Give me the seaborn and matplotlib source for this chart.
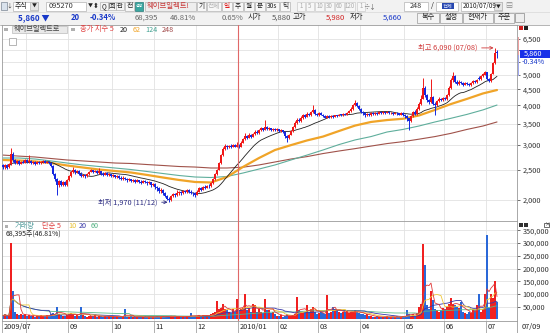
import numpy as np
import pandas as pd
import matplotlib
matplotlib.use("Agg")
import matplotlib.pyplot as plt
import matplotlib.ticker as mticker
from matplotlib.patches import Rectangle
import seaborn as sns

# ---------------- data ----------------
opens = [2590,2540,2580,2540,2600,2800,2680,2620,2660,2610,
         2650,2630,2680,2640,2660,2620,2640,2610,2650,2620,
         2640,2660,2630,2650,2620,2560,2420,2330,2230,2300,
         2240,2280,2230,2320,2380,2460,2500,2450,2480,2430,
         2390,2410,2380,2420,2460,2490,2460,2480,2440,2470,
         2430,2410,2440,2400,2420,2390,2400,2370,2390,2360,
         2340,2360,2330,2310,2330,2300,2320,2290,2310,2290,
         2270,2300,2280,2260,2280,2230,2250,2200,2180,2140,
         2160,2100,2060,2020,2000,2060,2090,2070,2100,2120,
         2100,2140,2120,2150,2130,2110,2100,2080,2130,2180,
         2160,2200,2190,2220,2210,2260,2330,2420,2500,2620,
         2780,2900,2980,2940,2970,2950,2990,2960,3000,2960,
         3040,3120,3200,3150,3220,3180,3240,3300,3260,3330,
         3380,3340,3420,3360,3390,3340,3370,3330,3360,3320,
         3340,3300,3200,3150,3230,3310,3420,3520,3600,3560,
         3650,3720,3680,3760,3720,3800,3880,3760,3720,3780,
         3740,3700,3660,3700,3670,3710,3680,3720,3700,3740,
         3720,3760,3740,3790,3830,3900,4000,4080,3980,3900,
         3820,3780,3720,3760,3730,3780,3750,3790,3760,3800,
         3770,3800,3780,3810,3770,3790,3760,3790,3770,3740,
         3780,3740,3700,3640,3560,3700,3820,3760,3900,4050,
         4200,4550,4300,4150,4100,4250,4050,4000,4120,4200,
         4150,4220,4180,4300,4550,4800,4950,4750,4680,4750,
         4700,4650,4720,4680,4640,4700,4780,4730,4900,4840,
         4950,5000,5100,4850,4780,5050,5450,5880]
closes = [2540,2580,2530,2600,2800,2680,2620,2660,2610,2650,
          2630,2680,2640,2660,2620,2640,2610,2650,2620,2640,
          2660,2630,2650,2620,2560,2420,2330,2230,2300,2240,
          2280,2230,2320,2380,2460,2500,2450,2480,2430,2390,
          2410,2380,2420,2460,2490,2460,2480,2440,2470,2430,
          2410,2440,2400,2420,2390,2400,2370,2390,2360,2340,
          2360,2330,2310,2330,2300,2320,2290,2310,2290,2270,
          2300,2280,2260,2280,2230,2250,2200,2180,2140,2160,
          2100,2060,2020,2000,2060,2090,2070,2100,2120,2100,
          2140,2120,2150,2130,2110,2100,2080,2130,2180,2160,
          2200,2190,2220,2210,2260,2330,2420,2500,2620,2780,
          2900,2980,2940,2970,2950,2990,2960,3000,2960,3040,
          3120,3200,3150,3220,3180,3240,3300,3260,3330,3380,
          3340,3420,3360,3390,3340,3370,3330,3360,3320,3340,
          3300,3200,3150,3230,3310,3420,3520,3600,3560,3650,
          3720,3680,3760,3720,3800,3880,3760,3720,3780,3740,
          3700,3660,3700,3670,3710,3680,3720,3700,3740,3720,
          3760,3740,3790,3830,3900,4000,4080,3980,3900,3820,
          3780,3720,3760,3730,3780,3750,3790,3760,3800,3770,
          3800,3780,3810,3770,3790,3760,3790,3770,3740,3780,
          3740,3700,3640,3560,3700,3820,3760,3900,4050,4200,
          4550,4300,4150,4100,4250,4050,4000,4120,4200,4150,
          4220,4180,4300,4550,4800,4950,4750,4680,4750,4700,
          4650,4720,4680,4640,4700,4780,4730,4820,4840,4950,
          5020,5100,4850,4780,5050,5450,5880,5860]
highs = [2610,2600,2600,2620,2925,2850,2700,2680,2680,2670,
         2680,2700,2700,2790,2680,2660,2660,2670,2670,2660,
         2680,2680,2670,2670,2640,2580,2440,2350,2320,2320,
         2300,2300,2340,2400,2480,2540,2520,2500,2500,2450,
         2430,2420,2440,2480,2510,2500,2500,2490,2530,2480,
         2450,2460,2450,2440,2430,2420,2410,2410,2400,2380,
         2380,2370,2350,2350,2340,2340,2330,2330,2320,2310,
         2320,2310,2300,2300,2290,2270,2260,2220,2200,2180,
         2170,2120,2080,2040,2080,2110,2110,2150,2140,2140,
         2160,2160,2170,2170,2150,2130,2120,2150,2200,2200,
         2220,2230,2240,2250,2280,2350,2440,2520,2650,2800,
         2950,3020,3000,3000,3010,3020,3010,3050,3020,3080,
         3160,3260,3230,3260,3250,3280,3340,3340,3370,3420,
         3400,3600,3450,3420,3400,3400,3380,3390,3370,3370,
         3350,3310,3220,3250,3340,3450,3560,3650,3640,3700,
         3760,3760,3800,3790,3850,4010,3900,3780,3800,3800,
         3760,3720,3720,3720,3740,3730,3740,3740,3760,3760,
         3780,3790,3820,3860,3940,4050,4160,4100,4000,3920,
         3850,3800,3790,3780,3800,3800,3820,3810,3830,3820,
         3830,3820,3840,3830,3810,3810,3810,3810,3790,3800,
         3800,3760,3720,3660,3720,3850,3860,3950,4100,4300,
         4900,4600,4350,4200,4850,4280,4100,4150,4250,4230,
         4260,4250,4350,4600,4900,5100,4980,4800,4800,4780,
         4740,4760,4750,4700,4740,4820,4800,4850,4950,4990,
         5080,5150,5120,4900,5080,5500,6090,5980]
lows = [2520,2520,2510,2530,2590,2640,2600,2600,2590,2600,
        2620,2620,2630,2620,2600,2600,2590,2600,2600,2610,
        2620,2620,2620,2600,2540,2400,2300,2077,2200,2220,
        2220,2210,2220,2300,2370,2440,2430,2440,2410,2370,
        2370,2360,2370,2400,2450,2440,2450,2420,2430,2400,
        2380,2400,2380,2390,2370,2370,2350,2360,2340,2320,
        2320,2310,2290,2300,2280,2290,2270,2280,2270,2250,
        2260,2260,2240,2250,2200,2210,2170,2140,2110,2110,
        2080,2040,2000,1970,1990,2040,2050,2060,2080,2080,
        2090,2100,2110,2110,2090,2060,2040,2070,2120,2140,
        2150,2170,2180,2190,2200,2250,2320,2400,2490,2600,
        2760,2880,2900,2920,2930,2940,2940,2950,2930,2950,
        3030,3100,3120,3140,3160,3170,3230,3240,3250,3310,
        3320,3330,3340,3340,3320,3320,3310,3310,3300,3300,
        3270,3160,3050,3130,3220,3300,3400,3500,3530,3540,
        3630,3660,3670,3690,3700,3780,3730,3690,3700,3720,
        3670,3640,3640,3640,3660,3660,3670,3680,3690,3700,
        3710,3720,3730,3770,3820,3880,3980,3950,3870,3780,
        3740,3680,3690,3700,3710,3730,3740,3740,3750,3750,
        3760,3760,3770,3750,3750,3740,3750,3740,3720,3720,
        3700,3650,3560,3340,3540,3680,3720,3740,3880,4020,
        4180,4250,4100,4050,4080,4000,3720,3980,4100,4120,
        4130,4150,4170,4280,4520,4750,4700,4640,4650,4660,
        4620,4630,4650,4600,4620,4680,4700,4710,4800,4830,
        4930,4980,4800,4750,4760,5030,5430,5660]
volumes_k = [15,20,12,18,302,110,30,22,18,20,
             16,20,14,18,12,15,10,14,12,16,
             14,12,18,15,20,25,22,50,20,18,
             15,12,18,22,25,20,15,18,14,49,
             16,12,10,14,15,12,16,10,14,12,
             10,12,9,14,10,12,9,11,10,12,
             9,41,10,8,12,9,10,11,8,10,
             9,12,8,10,9,11,10,12,9,10,
             12,10,14,12,15,10,12,9,11,10,
             12,10,14,9,25,11,12,15,17,12,
             18,14,17,15,20,25,30,74,40,45,
             61,40,35,30,25,40,30,81,35,40,
             45,101,37,45,30,60,55,30,40,30,
             25,81,35,37,25,30,20,15,12,18,
             10,14,20,12,15,18,22,90,35,30,
             25,30,58,30,40,50,30,20,25,28,
             25,20,95,25,30,50,40,38,30,25,
             30,28,32,25,30,28,35,30,25,20,
             22,18,20,15,12,10,8,12,10,9,
             8,10,12,9,11,8,10,12,9,10,
             12,10,37,20,15,20,15,25,50,60,
             295,215,55,40,110,78,40,37,30,35,
             45,40,50,60,85,60,55,50,45,70,
             30,25,20,30,25,40,35,55,100,30,
             40,100,330,45,100,85,150,68.395]
# long moving averages every 8th session (+ last session)
ma_every = 8
ma62 = [2683,2673,2654,2624,2577,2539,2502,2475,2448,2405,2360,2318,2284,2276,2369,2550,
        2722,2886,2991,3095,3184,3316,3450,3543,3593,3627,3715,3870,4040,4195,4365,4476]
ma124 = [2722,2722,2702,2664,2624,2587,2558,2530,2502,2466,2430,2395,2369,2360,2378,2439,
         2511,2587,2683,2781,2886,3003,3106,3184,3292,3355,3440,3543,3640,3745,3870,4010]
ma248 = [2781,2760,2742,2712,2683,2664,2644,2624,2615,2595,2577,2558,2548,2530,2530,2545,
         2587,2644,2702,2750,2812,2865,2915,2970,3025,3068,3124,3184,3260,3355,3440,3543]
month_idx = [0, 12, 33, 55, 76, 97, 118, 138, 158, 179, 201, 221, 242]
month_labels = ["2009/07", "", "09", "10", "11", "12", "2010/01", "02", "03", "04", "05", "06", "07"]
price_ticks = [2000, 2500, 3000, 3500, 4000, 4500, 5000, 5500, 6000, 6500]
hidden_price_labels = [5500, 6000]   # covered by the current-price marker in the reference
vol_ticks = [50000, 100000, 150000, 200000, 250000, 300000, 350000]
hi_idx, lo_idx = 246, 83

# ---------------- style ----------------
sns.set_theme(style="white")
plt.rcParams['font.family'] = ['Noto Sans CJK KR', 'DejaVu Sans']
RED, BLUE = '#f01818', '#1428e0'
VRED, VBLUE = '#f02020', '#2a68d8'
GRID = '#e2e2e2'
FS = 5.3

W, H = 550, 333
fig = plt.figure(figsize=(W / 100, H / 100), dpi=100)
fig.patch.set_facecolor('white')

def rect(px0, py0, px1, py1):
    return [px0 / W, 1 - py1 / H, (px1 - px0) / W, (py1 - py0) / H]

bg = fig.add_axes([0, 0, 1, 1], zorder=0)
bg.set_xlim(0, W); bg.set_ylim(H, 0); bg.axis('off')

axp = fig.add_axes(rect(2, 25, 517, 221), zorder=2)
axv = fig.add_axes(rect(2, 221, 517, 321), zorder=2, sharex=axp)
fg = fig.add_axes([0, 0, 1, 1], zorder=5)
fg.set_xlim(0, W); fg.set_ylim(H, 0); fg.axis('off'); fg.patch.set_alpha(0)

n = len(closes)
idx = np.arange(n)
o = np.array(opens, float); c = np.array(closes, float)
h = np.array(highs, float); l = np.array(lows, float)
vol = np.array(volumes_k, float) * 1000
up = c >= o
ccol = np.where(up, RED, BLUE)
vcol = np.where(up, VRED, VBLUE)

# ---------------- price panel ----------------
axp.set_yscale('log')
axp.set_xlim(-0.5, 257)
axp.set_ylim(1717, 7201)
for t in price_ticks:
    axp.axhline(t, color=GRID, lw=0.6, zorder=0)
for m in month_idx[1:]:
    axp.axvline(m - 0.5, color=GRID, lw=0.6, zorder=0)
    axv.axvline(m - 0.5, color=GRID, lw=0.6, zorder=0)

ma_x = list(idx[::ma_every]) + [n - 1]
ma20 = pd.Series(c).rolling(20, min_periods=1).mean()
sns.lineplot(x=ma_x, y=ma248, ax=axp, color='#a0524a', lw=0.8, legend=False, zorder=2)
sns.lineplot(x=ma_x, y=ma124, ax=axp, color='#5fae9c', lw=0.8, legend=False, zorder=2)
sns.lineplot(x=ma_x, y=ma62, ax=axp, color='#f0a428', lw=1.6, legend=False, zorder=2)
sns.lineplot(x=idx, y=ma20, ax=axp, color='#202020', lw=0.6, legend=False, zorder=2)

axp.vlines(idx, l, h, colors=ccol, lw=0.7, zorder=3)
body = np.maximum(np.abs(c - o), c * 0.006)
axp.bar(idx, body, bottom=np.minimum(o, c), width=0.85, color=ccol, lw=0, zorder=3)

axp.yaxis.set_major_locator(mticker.FixedLocator(price_ticks))
axp.yaxis.set_minor_locator(mticker.NullLocator())
axp.yaxis.set_major_formatter(mticker.FuncFormatter(
    lambda v, p: "" if int(round(v)) in hidden_price_labels else f"{int(round(v)):,}"))
axp.yaxis.tick_right()
axp.tick_params(axis='y', labelsize=FS, colors='#333333', length=2.5, width=0.5, pad=1.5)
axp.tick_params(axis='x', bottom=False, labelbottom=False)
axp.set_xlabel(''); axp.set_ylabel('')

axp.annotate("최고 6,090 (07/08)", xy=(hi_idx, h[hi_idx]), xytext=(-18, 0),
             textcoords='offset pixels', ha='right', va='center', fontsize=FS,
             color='#d03838', arrowprops=dict(arrowstyle='->', color='#d03838', lw=0.6,
                                              shrinkA=1, shrinkB=1))
axp.annotate("최저 1,970 (11/12)", xy=(lo_idx, l[lo_idx]), xytext=(-12, 0),
             textcoords='offset pixels', ha='right', va='center', fontsize=FS,
             color='#2a2a80', arrowprops=dict(arrowstyle='->', color='#2a2a80', lw=0.6,
                                              shrinkA=1, shrinkB=1))
axp.axvline(118 - 0.5, color='#e06868', lw=0.8, zorder=4)

# ---------------- volume panel ----------------
axv.set_ylim(-6300, 387000)
for t in vol_ticks:
    axv.axhline(t, color=GRID, lw=0.6, zorder=0)
axv.bar(idx, vol, width=0.8, color=vcol, lw=0, zorder=2)
vs = pd.Series(vol)
for win, colr in [(60, '#58b888'), (20, '#3838a8'), (10, '#f0c838'), (5, '#e03838')]:
    sns.lineplot(x=idx, y=vs.rolling(win, min_periods=1).mean(), ax=axv, color=colr,
                 lw=0.6, legend=False, zorder=3)
axv.axvline(118 - 0.5, color='#e06868', lw=0.8, zorder=4)
axv.yaxis.set_major_locator(mticker.FixedLocator(vol_ticks))
axv.yaxis.set_major_formatter(mticker.FuncFormatter(lambda v, p: f"{int(v):,}"))
axv.yaxis.tick_right()
axv.tick_params(axis='y', labelsize=FS, colors='#333333', length=2.5, width=0.5, pad=1.5)
axv.set_xticks([m - 0.5 for m in month_idx])
axv.set_xticklabels([])
axv.tick_params(axis='x', bottom=True, length=9, width=0.5, color='#909090', direction='out')
axv.set_xlabel(''); axv.set_ylabel('')
for m, lab in zip(month_idx, month_labels):
    if lab:
        axv.text(m + 0.3, -0.06, lab, transform=axv.get_xaxis_transform(), fontsize=FS,
                 color='#222222', ha='left', va='center', clip_on=False)

for ax in (axp, axv):
    ax.set_facecolor('white')
    for s in ax.spines.values():
        s.set_color('#9a9a9a'); s.set_linewidth(0.6)

# ---------------- frame / toolbar (pixel coordinates) ----------------
bg.add_patch(Rectangle((0, 0), W, 24.5, fc='#f2f2f2', ec='none'))
bg.add_patch(Rectangle((0, 321), W, 12, fc='white', ec='none'))
bg.plot([0, W], [11.5, 11.5], color='#d8d8d8', lw=0.5)
bg.plot([0, W], [24.5, 24.5], color='#a8a8a8', lw=0.6)
bg.plot([517, 517], [321, 333], color='#9a9a9a', lw=0.6)

def box(x0, x1, y0, y1, fc='#f7f7f7', ec='#b4b4b4', lw=0.5):
    fg.add_patch(Rectangle((x0, y0), x1 - x0, y1 - y0, fc=fc, ec=ec, lw=lw))

def txt(x, y, s, color='#222222', size=FS, ha='left', weight='normal', **kw):
    fg.text(x, y, s, color=color, fontsize=size, ha=ha, va='center', fontweight=weight, **kw)

# row 1
box(1, 7, 2, 10, fc='#d9e2ec', ec='#7b8794')
txt(9.3, 6, "↓", color='#333333', size=4.2, ha='center')
box(12.5, 38, 1.5, 10.5, fc='white')
txt(14.5, 6, "주식", size=5.0)
box(30, 38, 2, 10, fc='#e6e6e6')
txt(34, 6, "▼", size=3.6, ha='center')
box(46, 86, 1.5, 10.5, fc='white')
txt(49, 6, "095270", size=5.3, color='#333333')
txt(90, 6, "▼", size=3.6, ha='center')
txt(96, 6, "⬍", size=5, ha='center')
for xx, s in [(100, "Q"), (108, "回"), (116, "관")]:
    box(xx, xx + 7.5, 2, 10, fc='#f4f4f4')
    txt(xx + 3.75, 6, s, size=4.6, ha='center')
box(125, 134, 1.5, 10.5, fc='#f7f7f7')
txt(129.5, 6, "전", size=5, ha='center')
box(135, 143, 1.5, 10.5, fc='#3aa6a0', ec='#2a7a78')
txt(139, 6, "설정", size=2.8, ha='center', color='white')
box(145, 196, 1.5, 10.5, fc='#eeeeee')
txt(147, 6, "웨이브일렉트!", size=5.3, color='#c83838')
for x0, x1, s, colr in [(197, 206, "기", '#222222'), (207, 221, "전체", '#b0b0b0'),
                        (222, 232, "일", '#e02020'), (233, 243, "주", '#222222'),
                        (244, 254, "월", '#222222'), (255, 265, "분", '#222222'),
                        (266, 279, "30s", '#222222'), (280, 290, "틱", '#222222')]:
    box(x0, x1, 1.5, 10.5, fc='#f7f7f7')
    txt((x0 + x1) / 2, 6, s, size=4.8, ha='center', color=colr)
for x0, x1, s in [(297, 305, "1"), (306, 314, "5"), (315, 324, "10"), (325, 334, "30"),
                  (335, 344, "60"), (345, 355, "120"), (357, 365, "1")]:
    box(x0, x1, 1.5, 10.5, fc='#f7f7f7', ec='#cccccc')
    txt((x0 + x1) / 2, 6, s, size=4.4, ha='center', color='#aaaaaa')
txt(369, 6, "÷↓", size=4.6, ha='center', color='#555555')
box(404, 428, 1.5, 10.5, fc='white')
txt(416, 6, "248", size=5.2, ha='center', color='#333333')
txt(432, 6, "/", size=5.2, ha='center')
box(436, 458, 1.5, 10.5, fc='white')
fg.add_patch(Rectangle((442, 3), 12, 6, fc='#2848b0', ec='none'))
txt(448, 6, "전체", size=3.8, ha='center', color='#e0e8ff')
box(461, 502, 1.5, 10.5, fc='white')
txt(462.5, 6, "2010/07/09", size=4.7, color='#222222')
box(494, 502, 2, 10, fc='#e6e6e6')
txt(498, 6, "▼", size=3.4, ha='center')
txt(509, 6, "▤", size=5, ha='center', color='#8a8a8a')

# row 2
txt(18, 17.5, "5,860 ▼", color='#1838c8', size=5.8, weight='bold')
txt(80, 17.5, "20", color='#1838c8', size=5.5, ha='right', weight='bold')
txt(116, 17.5, "-0.34%", color='#1838c8', size=5.5, ha='right', weight='bold')
txt(158, 17.5, "68,395", color='#666666', size=5.5, ha='right')
txt(196, 17.5, "46.81%", color='#666666', size=5.5, ha='right')
txt(243, 17.5, "0.65%", color='#666666', size=5.5, ha='right')
txt(248, 17.5, "시가", size=5.3)
txt(291, 17.5, "5,880", color='#555555', size=5.5, ha='right')
txt(293, 17.5, "고가", size=5.3)
txt(345, 17.5, "5,980", color='#d02020', size=5.5, ha='right')
txt(350, 17.5, "저가", size=5.3)
txt(402, 17.5, "5,660", color='#1838c8', size=5.5, ha='right')
for x0, x1, s in [(417, 439, "복수"), (440, 462, "설정"), (463, 493, "현재가"), (494, 514, "주문")]:
    box(x0, x1, 12.5, 22.5, fc='#f4f4f4', ec='#9a9a9a')
    txt((x0 + x1) / 2, 17.5, s, size=5.2, ha='center')
box(515, 524, 13, 22, fc='#eeeeee', ec='#8a8a8a')

# legend rows inside the chart
fg.add_patch(Rectangle((4, 27.5), 3.5, 3.5, fc='#b0b0b0', ec='none'))
box(12, 67, 26, 33, fc='#e9e9e9', ec='#bbbbbb')
txt(14, 29.5, "웨이브일렉트로", size=5.2, color='#444444')
fg.add_patch(Rectangle((71, 27.5), 3.5, 3.5, fc='#b0b0b0', ec='none'))
txt(80, 29.5, "종가 지수 5", size=5.2, color='#e04040')
txt(120, 29.5, "20", size=5.2, color='#222222')
txt(133, 29.5, "62", size=5.2, color='#f0a428')
txt(145, 29.5, "124", size=5.2, color='#40a090')
txt(162, 29.5, "248", size=5.2, color='#a04848')
box(8.5, 16, 37.5, 44.5, fc='white', ec='#999999')

fg.add_patch(Rectangle((5, 224.5), 3, 3, fc='#b0b0b0', ec='none'))
txt(15, 226, "거래량", size=5.2, color='#58a0a0')
txt(42, 226, "단순 5", size=5.2, color='#e04040')
txt(68, 226, "10", size=5.2, color='#e8c030')
txt(79, 226, "20", size=5.2, color='#3838a8')
txt(91, 226, "60", size=5.2, color='#50b080')
txt(6, 234.5, "68,395주(46.81%)", size=5.0, color='#222222')

# right-side markers
fg.add_patch(Rectangle((517.5, 37), 1.5, 18, fc='#f0a0a0', ec='none'))
fg.add_patch(Rectangle((517.5, 55), 1.5, 21, fc='#a0a8f0', ec='none'))
fg.add_patch(Rectangle((520, 49.5), 30, 8, fc='#1830e8', ec='none'))
txt(524, 53.5, "5,860", size=5.3, color='white')
txt(522, 62, "-0.34%", size=5.2, color='#1838c8')
fg.add_patch(Rectangle((519, 25.5), 4, 4, fc='#d02020', ec='none'))
fg.add_patch(Rectangle((523.5, 25.5), 4, 4, fc='#202020', ec='none'))
fg.add_patch(Rectangle((519, 222.5), 4, 4, fc='#303030', ec='none'))
fg.add_patch(Rectangle((523.5, 222.5), 4, 4, fc='#303030', ec='none'))
box(544, 549, 222.5, 227, fc='white', ec='#333333')
txt(546.5, 224.8, "×", size=4, ha='center', color='#333333')
txt(522, 327, "07/09", size=FS, color='#222222')

fig.savefig("out.png", dpi=100, facecolor=fig.get_facecolor())
